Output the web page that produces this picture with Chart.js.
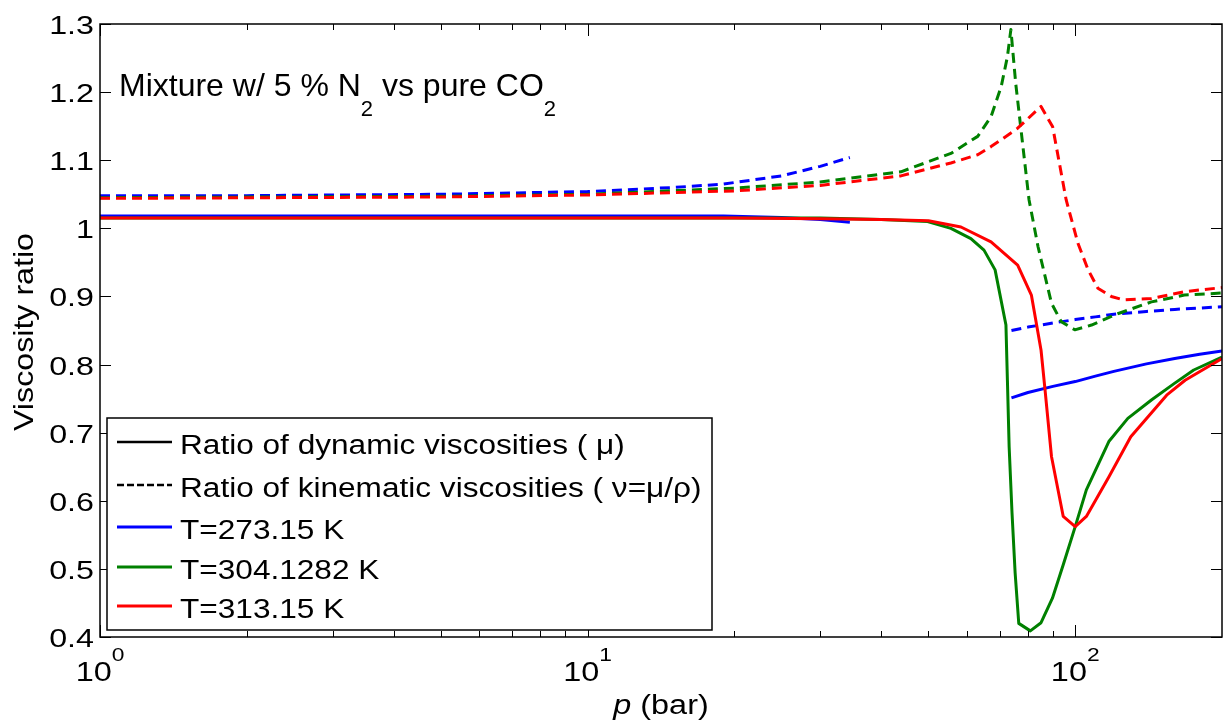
<!DOCTYPE html>
<html>
<head>
<meta charset="utf-8">
<script src="https://cdn.jsdelivr.net/npm/chart.js@4/dist/chart.umd.min.js"></script>
<style>
  html, body { margin: 0; padding: 0; background: #fff; }
  #wrap { width: 1225px; height: 723px; }
</style>
</head>
<body>
<div id="wrap"><canvas id="grafico" width="1225" height="723"></canvas></div>
<script>
// valores: presion (bar) y cociente de viscosidades
const bluePGas  = [1, 2, 5, 10, 15, 19, 25, 30, 34.5];
const blueMuGas = [1.018, 1.018, 1.018, 1.018, 1.018, 1.018, 1.016, 1.013, 1.009];
const blueNuGas = [1.048, 1.048, 1.050, 1.054, 1.060, 1.065, 1.077, 1.091, 1.104];

const bluePLiq  = [74, 80, 90, 100, 110, 120, 140, 160, 180, 200];
const blueMuLiq = [0.751, 0.759, 0.768, 0.775, 0.783, 0.790, 0.801, 0.809, 0.815, 0.820];
const blueNuLiq = [0.850, 0.855, 0.861, 0.866, 0.870, 0.874, 0.878, 0.881, 0.883, 0.885];

const greenPMu = [1, 10, 20, 30, 40, 49.8, 55.6, 61.1, 65, 68.5, 72.1, 72.6, 73.2, 74.2, 75.3, 76.6, 80.9, 85.1, 89.8, 94.5, 100, 105.4, 117.2, 128.2, 143.3, 159.5, 175, 200];
const greenMu  = [1.015, 1.015, 1.015, 1.015, 1.013, 1.010, 1.000, 0.985, 0.968, 0.939, 0.858, 0.777, 0.679, 0.582, 0.494, 0.420, 0.409, 0.421, 0.457, 0.506, 0.562, 0.616, 0.687, 0.721, 0.748, 0.772, 0.792, 0.811];
const greenPNu = [1, 5, 10, 20, 30, 43.9, 55.6, 63.1, 67.2, 70.5, 72.6, 73.8, 75.5, 80.4, 83.9, 89.4, 93.6, 99.8, 108, 122.6, 143.3, 167.5, 200];
const greenNu  = [1.045, 1.047, 1.050, 1.059, 1.068, 1.083, 1.110, 1.135, 1.164, 1.208, 1.252, 1.292, 1.213, 1.042, 0.973, 0.890, 0.863, 0.851, 0.858, 0.875, 0.892, 0.902, 0.905];

const redPMu = [1, 10, 20, 30, 40, 50, 58.3, 67.2, 76.2, 81.3, 85.1, 86.8, 89.4, 94.5, 100, 105.4, 117.2, 130, 154, 168, 200];
const redMu  = [1.015, 1.015, 1.015, 1.014, 1.013, 1.011, 1.002, 0.980, 0.946, 0.902, 0.821, 0.760, 0.665, 0.577, 0.562, 0.577, 0.635, 0.694, 0.755, 0.777, 0.809];
const redPNu = [1, 5, 10, 20, 30, 43.9, 55.6, 63.1, 67.2, 70.5, 76.2, 85.1, 89.9, 95.8, 101.3, 106.3, 111.3, 118.6, 125.3, 143.3, 167.5, 200];
const redNu  = [1.044, 1.046, 1.049, 1.055, 1.063, 1.077, 1.096, 1.108, 1.120, 1.130, 1.147, 1.179, 1.149, 1.042, 0.978, 0.939, 0.912, 0.900, 0.895, 0.897, 0.907, 0.913];

// ejes y textos
const yTicks = [0.4, 0.5, 0.6, 0.7, 0.8, 0.9, 1, 1.1, 1.2, 1.3];
const yTickLabels = ['0.4', '0.5', '0.6', '0.7', '0.8', '0.9', '1', '1.1', '1.2', '1.3'];
const xMajorTicks = [1, 10, 100];
const xMajorExp = ['0', '1', '2'];
const xMinorTicks = [2, 3, 4, 5, 6, 7, 8, 9, 20, 30, 40, 50, 60, 70, 80, 90];
const legendLabels = ['Ratio of dynamic viscosities ( \u03bc)', 'Ratio of kinematic viscosities ( \u03bd=\u03bc/\u03c1)', 'T=273.15 K', 'T=304.1282 K', 'T=313.15 K'];

const BLUE = '#0000ff', GREEN = '#008000', RED = '#ff0000';
const DASH = [10, 6];
const FONT = '"Liberation Sans", Arial, sans-serif';

const pts = (ps, vs) => ps.map((p, i) => ({ x: p, y: vs[i] }));

function serie(ps, vs, color, dashed, order) {
    return {
        data: pts(ps, vs),
        borderColor: color,
        borderWidth: 3,
        borderDash: dashed ? DASH : [],
        borderJoinStyle: 'round',
        pointRadius: 0,
        fill: false,
        tension: 0,
        order: order
    };
}

// orden: los de numero menor quedan encima
const datasets = [
    serie(bluePGas, blueMuGas, BLUE, false, 6),
    serie(bluePLiq, blueMuLiq, BLUE, false, 6),
    serie(bluePGas, blueNuGas, BLUE, true, 5),
    serie(bluePLiq, blueNuLiq, BLUE, true, 5),
    serie(greenPMu, greenMu, GREEN, false, 4),
    serie(greenPNu, greenNu, GREEN, true, 3),
    serie(redPMu, redMu, RED, false, 2),
    serie(redPNu, redNu, RED, true, 1)
];

// texto con estiramiento horizontal (la figura original esta algo ensanchada)
function txt(ctx, s, x, y, size, o = {}) {
    ctx.save();
    ctx.translate(x, y);
    if (o.rot) ctx.rotate(o.rot);
    const sx = o.sx || 1;
    ctx.scale(sx, 1);
    ctx.font = (o.italic ? 'italic ' : '') + size + 'px ' + FONT;
    ctx.textAlign = o.align || 'left';
    ctx.textBaseline = 'alphabetic';
    ctx.fillStyle = '#000';
    ctx.fillText(s, 0, 0);
    const w = ctx.measureText(s).width * sx;
    ctx.restore();
    return w;
}

function medir(ctx, s, size, sx, italic) {
    ctx.save();
    ctx.font = (italic ? 'italic ' : '') + size + 'px ' + FONT;
    const w = ctx.measureText(s).width * sx;
    ctx.restore();
    return w;
}

const marco = {
    id: 'marco',
    afterDraw(chart) {
        const ctx = chart.ctx;
        const a = chart.chartArea;
        const xs = chart.scales.x, ys = chart.scales.y;

        ctx.save();
        ctx.strokeStyle = '#000';
        ctx.lineWidth = 1.5;
        ctx.strokeRect(a.left, a.top, a.right - a.left, a.bottom - a.top);

        // marcas hacia dentro, tambien arriba y a la derecha
        ctx.lineWidth = 1;
        ctx.beginPath();
        yTicks.forEach(v => {
            const py = Math.round(ys.getPixelForValue(v)) + 0.5;
            ctx.moveTo(a.left, py); ctx.lineTo(a.left + 11, py);
            ctx.moveTo(a.right, py); ctx.lineTo(a.right - 11, py);
        });
        xMajorTicks.forEach(v => {
            const px = Math.round(xs.getPixelForValue(v)) + 0.5;
            ctx.moveTo(px, a.bottom); ctx.lineTo(px, a.bottom - 12);
            ctx.moveTo(px, a.top); ctx.lineTo(px, a.top + 12);
        });
        xMinorTicks.forEach(v => {
            const px = Math.round(xs.getPixelForValue(v)) + 0.5;
            ctx.moveTo(px, a.bottom); ctx.lineTo(px, a.bottom - 6);
            ctx.moveTo(px, a.top); ctx.lineTo(px, a.top + 6);
        });
        ctx.stroke();
        ctx.restore();

        // etiquetas del eje y
        yTicks.forEach((v, i) => {
            txt(ctx, yTickLabels[i], 94, ys.getPixelForValue(v) + 10, 26, { align: 'right', sx: 1.24 });
        });

        // etiquetas del eje x: 10^n
        xMajorTicks.forEach((v, i) => {
            const px = xs.getPixelForValue(v);
            const w10 = medir(ctx, '10', 27, 1.2);
            const wE = medir(ctx, xMajorExp[i], 19, 1.2);
            const x0 = px - (w10 + wE) / 2;
            txt(ctx, '10', x0, 681, 27, { sx: 1.2 });
            txt(ctx, xMajorExp[i], x0 + w10, 661, 19, { sx: 1.2 });
        });

        // titulo x: p (bar)
        const cx = (a.left + a.right) / 2;
        const wp = medir(ctx, 'p', 27, 1.2, true);
        const wb = medir(ctx, ' (bar)', 27, 1.2);
        let x0 = cx - (wp + wb) / 2;
        txt(ctx, 'p', x0, 714, 27, { sx: 1.2, italic: true });
        txt(ctx, ' (bar)', x0 + wp, 714, 27, { sx: 1.2 });

        // titulo y
        txt(ctx, 'Viscosity ratio', 33, 332, 28, { align: 'center', sx: 1.15, rot: -Math.PI / 2 });

        // anotacion
        let x = 119;
        x += txt(ctx, 'Mixture w/ 5 % N', x, 96, 32);
        x += txt(ctx, '2', x, 116, 22);
        x += txt(ctx, ' vs pure CO', x, 96, 32);
        txt(ctx, '2', x, 116, 22);

        // leyenda
        const L = { left: 107, top: 418, right: 712, bottom: 630 };
        ctx.save();
        ctx.fillStyle = '#fff';
        ctx.fillRect(L.left, L.top, L.right - L.left, L.bottom - L.top);
        ctx.strokeStyle = '#000';
        ctx.lineWidth = 1.5;
        ctx.strokeRect(L.left, L.top, L.right - L.left, L.bottom - L.top);
        ctx.restore();

        const filas = [442, 485, 527, 567, 606];
        const colores = ['#000', '#000', BLUE, GREEN, RED];
        legendLabels.forEach((lab, i) => {
            ctx.save();
            ctx.strokeStyle = colores[i];
            ctx.lineWidth = i < 2 ? 2.5 : 3;
            ctx.setLineDash(i === 1 ? [7, 3] : []);
            ctx.beginPath();
            ctx.moveTo(117, filas[i]);
            ctx.lineTo(172, filas[i]);
            ctx.stroke();
            ctx.restore();
            txt(ctx, lab, 180, filas[i] + 12, 27, { sx: 1.17 });
        });
    }
};

new Chart(document.getElementById('grafico'), {
    type: 'line',
    data: { datasets: datasets },
    options: {
        responsive: false,
        animation: false,
        devicePixelRatio: 1,
        layout: { padding: { left: 100, top: 24, right: 3, bottom: 86 } },
        scales: {
            x: { type: 'logarithmic', min: 1, max: 200, display: false },
            y: { type: 'linear', min: 0.4, max: 1.3, display: false }
        },
        plugins: {
            legend: { display: false },
            tooltip: { enabled: false }
        }
    },
    plugins: [marco]
});
</script>
</body>
</html>
